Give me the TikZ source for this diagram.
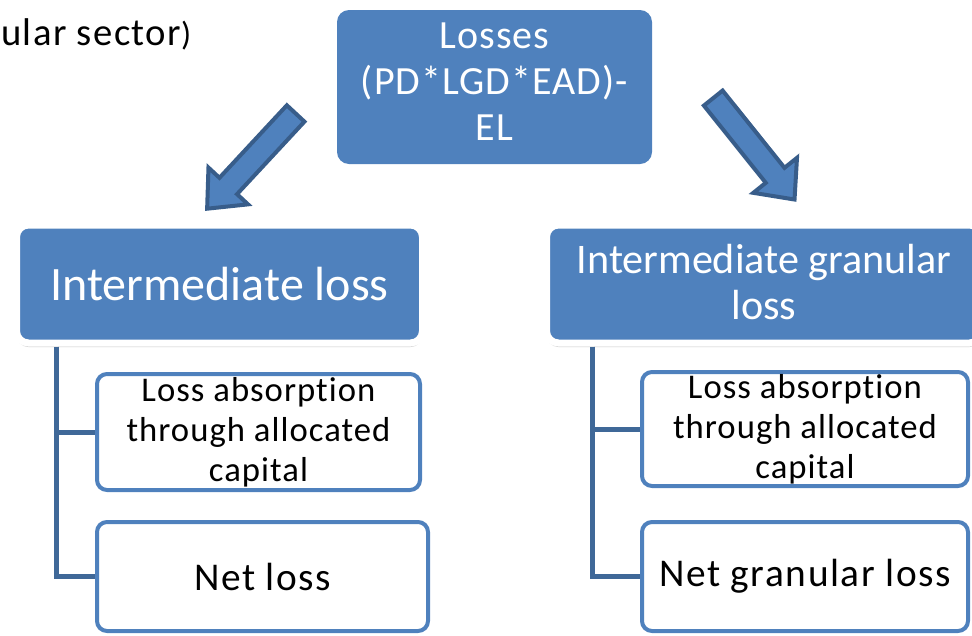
\documentclass[tikz,border=0pt]{standalone}
\usepackage{fontspec}
\setmainfont{Carlito}[Ligatures=NoCommon]
\usetikzlibrary{shadows}
\definecolor{accent}{HTML}{4F81BD}
\definecolor{accentdark}{HTML}{385D8A}
\definecolor{linecol}{HTML}{3F6898}
\tikzset{
  topbox/.style={fill=accent, draw=none, rounded corners=9pt, text=white, align=center, inner sep=0pt,
    minimum width=315*0.75pt, minimum height=154*0.75pt,
    font=\fontsize{30}{34.5}\selectfont\addfontfeatures{LetterSpace=2.7}},
  interbox/.style={fill=accent, draw=white, line width=5.25pt, rounded corners=9pt, text=white, align=center,
    inner sep=0pt, minimum height=118*0.75pt,
    drop shadow={shadow xshift=0pt, shadow yshift=-3pt, opacity=0.3, fill=black!70}},
  childbox/.style={fill=white, draw=accent, line width=3pt, rounded corners=7.5pt, text=black, align=center,
    inner sep=0pt},
  smalltext/.style={font=\fontsize{26}{30}\selectfont\addfontfeatures{LetterSpace=3}},
  bigtext/.style={font=\fontsize{29.5}{34}\selectfont\addfontfeatures{LetterSpace=4}},
  conn/.style={draw=linecol, line width=3.75pt},
  blockarrow/.style={fill=accent, draw=accentdark, line width=3pt, line join=miter}
}
\begin{document}
\begin{tikzpicture}[x=0.75pt,y=-0.75pt]
\useasboundingbox (0,0) rectangle (972,636);
\clip (0,0) rectangle (972,636);

% clipped caption at top left
\node[anchor=base west, inner sep=0pt] (cap) at (1,45)
  {\fontsize{29}{32}\selectfont\addfontfeatures{LetterSpace=3.7}ular sector\fontsize{25}{28}\selectfont)};

% top box
\node[topbox] (top) at (494.5,87) {Losses\\(PD*LGD*EAD)-\\EL\rule[-7.5pt]{0pt}{0pt}};

% block arrows
\begin{scope}[shift={(297,112)}, rotate=-132.9]
  \draw[blockarrow] (2,-12) -- (101,-12) -- (101,-27) -- (132,0) -- (101,27) -- (101,12) -- (2,12) -- cycle;
\end{scope}
\begin{scope}[shift={(712,96.5)}, rotate=-51.3]
  \draw[blockarrow] (2,-12) -- (101,-12) -- (101,-28) -- (132,0) -- (101,28) -- (101,12) -- (2,12) -- cycle;
\end{scope}

% child boxes
\node[childbox, smalltext, minimum width=323*0.75pt, minimum height=116*0.75pt] (la) at (258.5,432)
  {Loss absorption\\through allocated\\capital};
\node[childbox, bigtext, minimum width=331*0.75pt, minimum height=109*0.75pt] (ln) at (262.5,576.5)
  {Net loss};
\node[childbox, smalltext, minimum width=326*0.75pt, minimum height=114*0.75pt] (ra) at (805,429)
  {Loss absorption\\through allocated\\capital};
\node[childbox, bigtext, minimum width=326*0.75pt, minimum height=109*0.75pt] (rn) at (805,576.5)
  {Net granular loss};

% intermediate boxes
\node[interbox, minimum width=406*0.75pt, font=\fontsize{36}{34}\selectfont] (il) at (219.5,284)
  {Intermediate loss};
\node[interbox, minimum width=435*0.75pt, font=\fontsize{31.6}{34}\selectfont] (ir) at (764,284)
  {Intermediate granular\\loss\rule[-3pt]{0pt}{0pt}};

% connectors
\draw[conn] ([xshift=-39*0.75pt]la.west |- il.south) |- (la.west);
\draw[conn] ([xshift=-39*0.75pt]la.west |- il.south) |- (ln.west);
\draw[conn] ([xshift=-48*0.75pt]ra.west |- ir.south) |- (ra.west);
\draw[conn] ([xshift=-48*0.75pt]ra.west |- ir.south) |- (rn.west);
\end{tikzpicture}
\end{document}
